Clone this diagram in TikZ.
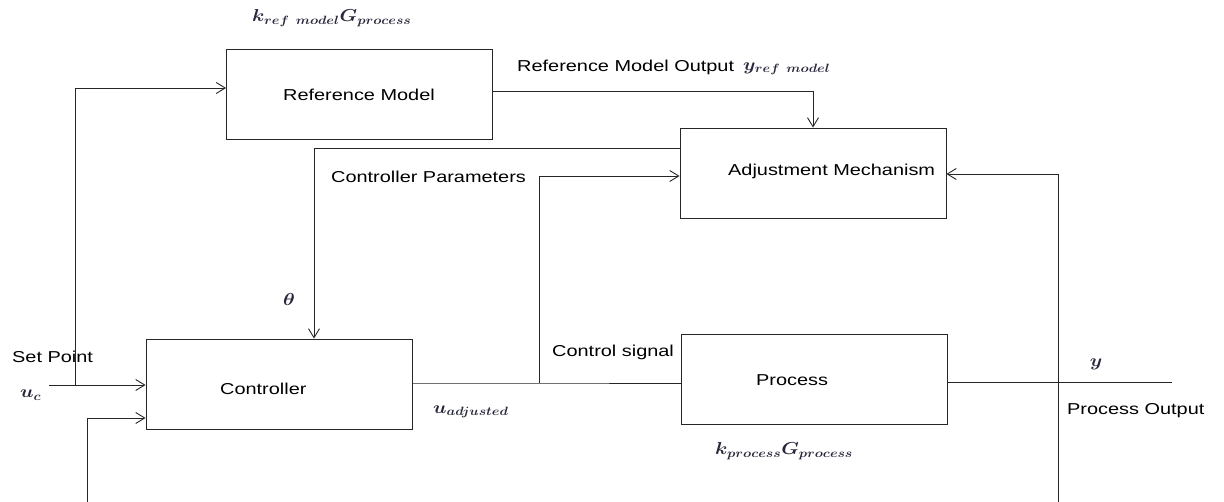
\documentclass[tikz,border=0pt]{standalone}
\usepackage{fontspec}
\usepackage{amsmath}
\usepackage{graphicx}
\setmainfont[FakeStretch=1.26]{Liberation Sans}
\usetikzlibrary{arrows.meta}
\definecolor{mathc}{RGB}{40,40,60}
\newcommand\wm[1]{\scalebox{1.15}[1]{$\boldsymbol{#1}$}}
\begin{document}
\begin{tikzpicture}[x=1pt,y=-1pt,
  box/.style={draw=black!85, line width=0.9pt, minimum width=266pt, minimum height=90pt, inner sep=0pt},
  txt/.style={font=\fontsize{15.8}{18}\selectfont, inner sep=0pt},
  mth/.style={inner sep=0pt, text=mathc, font=\fontsize{17}{20}\selectfont},
  wire/.style={draw=black!85, line width=0.9pt},
  arr/.style={wire, -{Straight Barb[length=9pt,width=11pt]}},
]
\useasboundingbox (0,0) rectangle (1224,502);

% blocks
\node[box] (ref)  at (359.5,94) {};
\node[box] (adj)  at (813,173) {};
\node[box] (ctrl) at (279,384) {};
\node[box] (proc) at (814,379) {};

% block titles
\node[txt] (tref) at (359,95) {Reference Model};
\node[txt, anchor=west] (tadj) at (728,171) {Adjustment Mechanism};
\node[txt, anchor=west] (tctrl) at (220,389) {Controller};
\node[txt, anchor=west] (tproc) at (756,380) {Process};

% free ends of the signal lines
\coordinate (sp) at (49,385);
\coordinate (spj) at (75,385);
\coordinate (cs) at (539,383);
\coordinate (yo) at (1172,382);
\coordinate (fb) at (1058,502);
\coordinate (bi) at (87,502);

% set point into controller and reference model
\draw[arr] (sp) -- (sp -| ctrl.west);
\draw[arr] (spj) |- ([yshift=6pt]ref.west);

% reference model output to adjustment mechanism
\draw[arr] ([yshift=3pt]ref.east) -| (adj.north);

% controller parameters back to controller
\draw[arr] ([yshift=25pt]adj.west) -| ([xshift=35pt]ctrl.north);

% control signal
\draw[wire] ([yshift=1pt]ctrl.east) -- (cs) -- (cs -| proc.west);
\draw[arr] (cs) |- ([yshift=-3pt]adj.west);

% process output and feedback
\draw[wire] ([yshift=-3pt]proc.east) -- (yo);
\draw[arr] (fb) |- ([yshift=-1pt]adj.east);
\draw[arr] (bi) |- ([yshift=-34pt]ctrl.west);

% signal labels
\node[txt, anchor=west] (lrefout) at (517,67) {Reference Model Output};
\node[txt, anchor=west] (lpar) at (331,177) {Controller Parameters};
\node[txt, anchor=west] (lsp) at (12,357) {Set Point};
\node[txt, anchor=west] (lcs) at (552,352) {Control signal};
\node[txt, anchor=west] (lpo) at (1067,411) {Process Output};

% math labels
\node[mth, anchor=west] (mkref) at (252,18) {\wm{k_{ref\ model}G_{process}}};
\node[mth, anchor=west] (myref) at (743,69) {\wm{y_{ref\ model}}};
\node[mth] (mth) at (289,300) {\wm{\theta}};
\node[mth, anchor=west] (muc) at (20,395) {\wm{u_c}};
\node[mth, anchor=west] (muadj) at (433,412) {\wm{u_{adjusted}}};
\node[mth, anchor=west] (mkp) at (715,451) {\wm{k_{process}G_{process}}};
\node[mth] (my) at (1096,364) {\wm{y}};
\end{tikzpicture}
\end{document}
